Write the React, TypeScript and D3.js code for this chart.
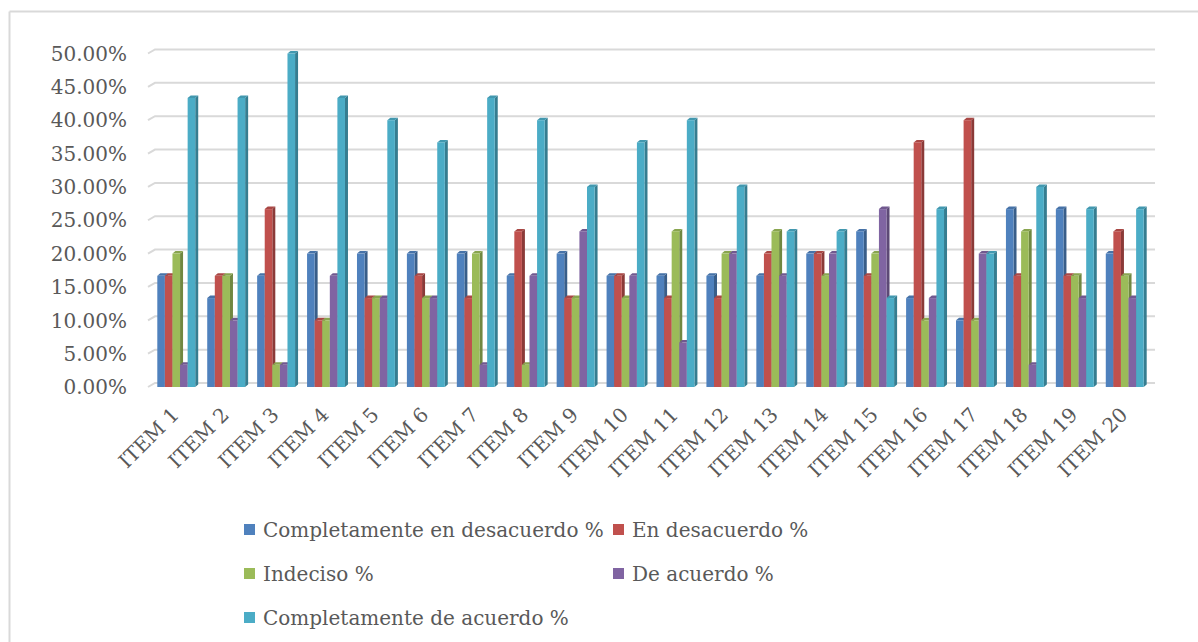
import React from "react";
import * as d3 from "d3";

const categories = Array.from({ length: 20 }, (_, i) => `ITEM ${i + 1}`);
const seriesNames = [
  "Completamente en desacuerdo %",
  "En desacuerdo %",
  "Indeciso %",
  "De acuerdo %",
  "Completamente de acuerdo %",
];
const seriesColors = ["#4F81BD", "#C0504D", "#9BBB59", "#8064A2", "#4BACC6"];

const completamenteDesacuerdo = [16.67, 13.33, 16.67, 20, 20, 20, 20, 16.67, 20, 16.67, 16.67, 16.67, 16.67, 20, 23.33, 13.33, 10, 26.67, 26.67, 20];
const enDesacuerdo = [16.67, 16.67, 26.67, 10, 13.33, 16.67, 13.33, 23.33, 13.33, 16.67, 13.33, 13.33, 20, 20, 16.67, 36.67, 40, 16.67, 16.67, 23.33];
const indeciso = [20, 16.67, 3.33, 10, 13.33, 13.33, 20, 3.33, 13.33, 13.33, 23.33, 20, 23.33, 16.67, 20, 10, 10, 23.33, 16.67, 16.67];
const deAcuerdo = [3.33, 10, 3.33, 16.67, 13.33, 13.33, 3.33, 16.67, 23.33, 16.67, 6.67, 20, 16.67, 20, 26.67, 13.33, 20, 3.33, 13.33, 13.33];
const completamenteAcuerdo = [43.33, 43.33, 50, 43.33, 40, 36.67, 43.33, 40, 30, 36.67, 40, 30, 23.33, 23.33, 13.33, 26.67, 20, 30, 26.67, 26.67];

const seriesValues = [completamenteDesacuerdo, enDesacuerdo, indeciso, deAcuerdo, completamenteAcuerdo];
const yTicks = [0, 5, 10, 15, 20, 25, 30, 35, 40, 45, 50];

const W = 1198;
const H = 642;
const FONT = "'DejaVu Serif', serif";

export default function App() {
  const x0Range = 151.3;
  const step = 49.92;
  const xb = d3
    .scaleBand<string>()
    .domain(categories)
    .range([x0Range, x0Range + step * categories.length])
    .paddingInner(12 / step)
    .paddingOuter(6 / step);
  const inner = d3.scaleBand<number>().domain(d3.range(seriesNames.length)).range([0, xb.bandwidth()]);
  const y = d3.scaleLinear().domain([0, 50]).range([387, 53.5]);
  const depthX = 7;
  const depthY = 4;
  const bdx = 3;
  const bdy = 2.5;

  const bars: React.ReactNode[] = [];
  categories.forEach((cat, ci) => {
    seriesValues.forEach((vals, si) => {
      const v = vals[ci];
      const bx = (xb(cat) as number) + (inner(si) as number);
      const w = inner.bandwidth();
      const yt = y(v);
      const yb = y(0);
      const c = seriesColors[si];
      const side = d3.color(c)!.darker(0.9).formatHex();
      const top = d3.color(c)!.darker(0.35).formatHex();
      bars.push(
        <g key={`${ci}-${si}`}>
          <polygon
            points={`${bx + w},${yt} ${bx + w + bdx},${yt - bdy} ${bx + w + bdx},${yb - bdy} ${bx + w},${yb}`}
            fill={side}
          />
          <polygon
            points={`${bx},${yt} ${bx + bdx},${yt - bdy} ${bx + w + bdx},${yt - bdy} ${bx + w},${yt}`}
            fill={top}
          />
          <rect x={bx} y={yt} width={w} height={yb - yt} fill={c} />
        </g>
      );
    });
  });

  const legendItems = [
    { i: 0, sx: 244, ty: 530 },
    { i: 1, sx: 613, ty: 530 },
    { i: 2, sx: 244, ty: 574 },
    { i: 3, sx: 613, ty: 574 },
    { i: 4, sx: 244, ty: 618 },
  ];

  return (
    <svg width={W} height={H} style={{ position: "absolute", left: 0, top: 0, background: "#fff" }} fontFamily={FONT}>
      <rect x={0} y={0} width={W} height={H} fill="#fff" />
      <line x1={9.5} y1={11.5} x2={W + 5} y2={11.5} stroke="#d9d9d9" strokeWidth={2} />
      <line x1={9.5} y1={11.5} x2={9.5} y2={H + 5} stroke="#d9d9d9" strokeWidth={2} />

      {yTicks.map((t) => (
        <polyline
          key={`g${t}`}
          points={`148,${y(t)} ${148 + depthX},${y(t) - depthY} 1155,${y(t) - depthY}`}
          fill="none"
          stroke="#d9d9d9"
          strokeWidth={2}
        />
      ))}

      {yTicks.map((t) => (
        <text key={`yl${t}`} x={127} y={y(t)} dy="0.36em" textAnchor="end" fontSize={20} fill="#595959">
          {d3.format(".2f")(t) + "%"}
        </text>
      ))}

      {bars}

      {categories.map((cat) => {
        const cx = (xb(cat) as number) + xb.bandwidth() / 2 + 4;
        const cy = 416;
        return (
          <text key={cat} x={cx} y={cy} textAnchor="end" fontSize={20} fill="#595959" transform={`rotate(-45 ${cx} ${cy})`}>
            {cat}
          </text>
        );
      })}

      {legendItems.map((li) => (
        <g key={`lg${li.i}`}>
          <rect x={li.sx} y={li.ty - 6} width={11} height={11} fill={seriesColors[li.i]} />
          <text x={li.sx + 19} y={li.ty} dy="0.36em" fontSize={20} fill="#595959">
            {seriesNames[li.i]}
          </text>
        </g>
      ))}
    </svg>
  );
}
